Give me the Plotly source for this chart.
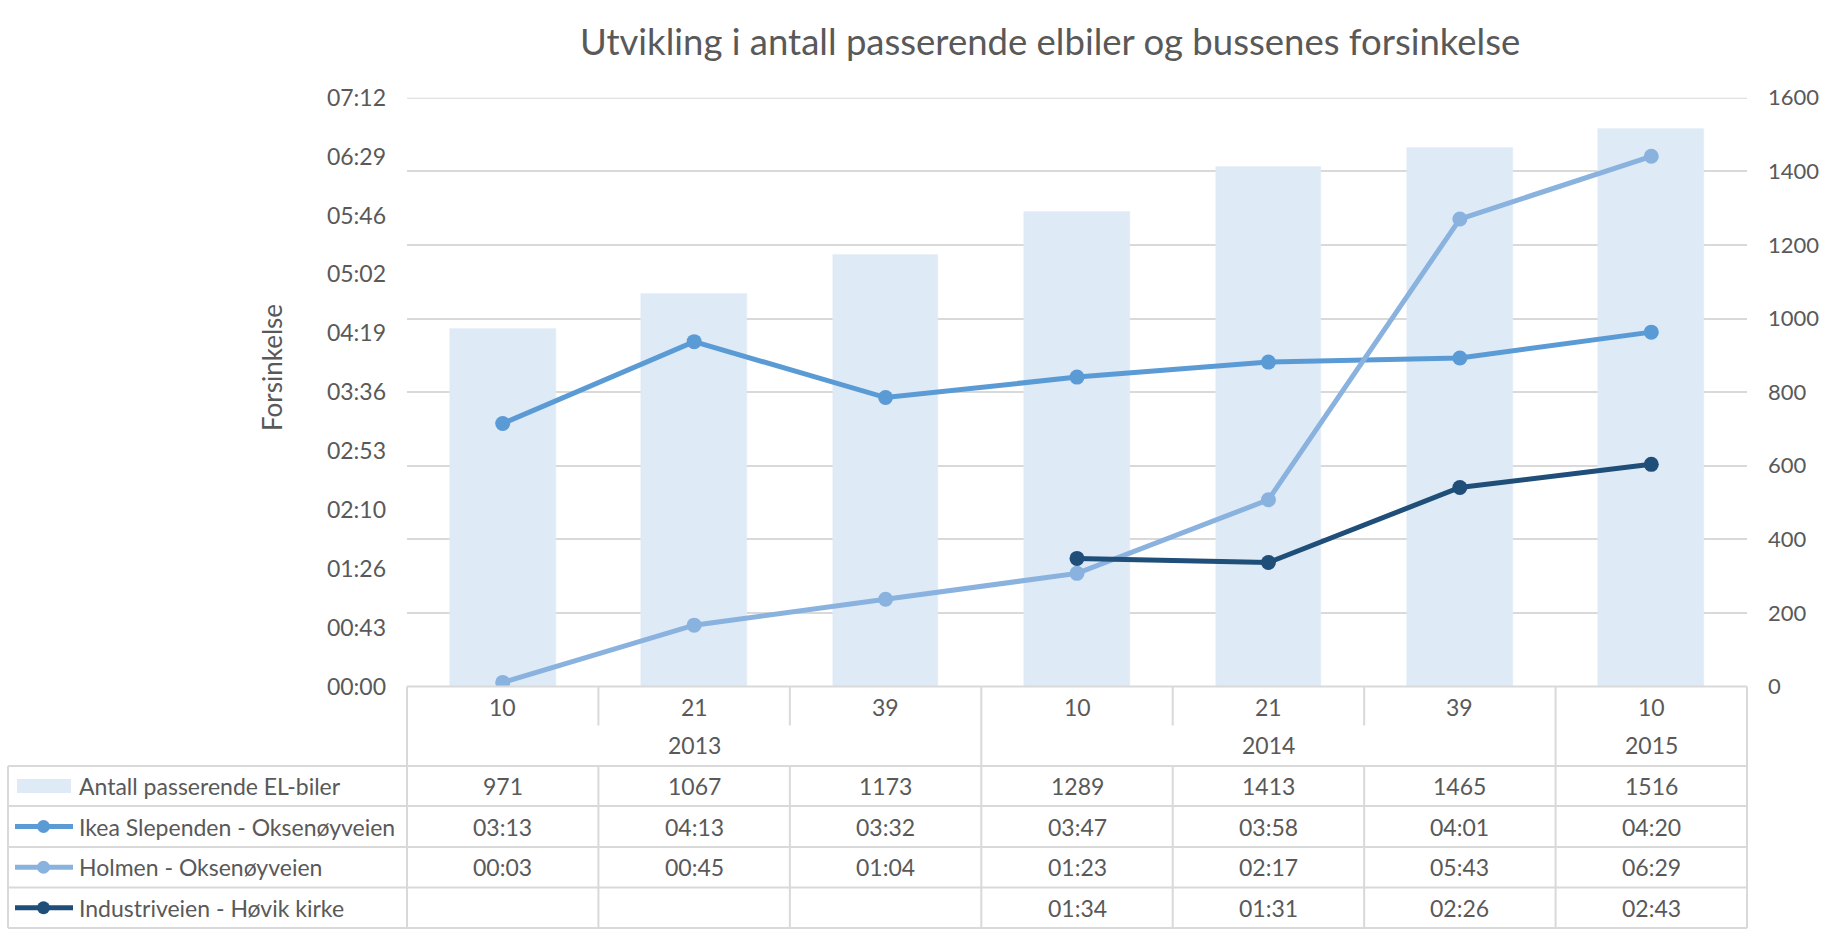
import plotly.graph_objects as go

# ---------------- data ----------------
weeks = ["10", "21", "39", "10", "21", "39", "10"]
years = ["2013", "2014", "2015"]
year_spans = [3, 3, 1]
el_biler = [971, 1067, 1173, 1289, 1413, 1465, 1516]
ikea = ["03:13", "04:13", "03:32", "03:47", "03:58", "04:01", "04:20"]
holmen = ["00:03", "00:45", "01:04", "01:23", "02:17", "05:43", "06:29"]
industri = [None, None, None, "01:34", "01:31", "02:26", "02:43"]
left_ticks = ["00:00", "00:43", "01:26", "02:10", "02:53", "03:36",
              "04:19", "05:02", "05:46", "06:29", "07:12"]

series_names = ["Antall passerende EL-biler", "Ikea Slependen - Oksenøyveien",
                "Holmen - Oksenøyveien", "Industriveien - Høvik kirke"]

# ---------------- style ----------------
W, H = 1825, 942
FONT = "Lato"
TXT = "#595959"
GRID = "#D9D9D9"
BAR_C = "#DEEAF6"
C_IKEA = "#5B9BD5"
C_HOLMEN = "#8AB2DF"
C_IND = "#1F4E79"
FS = 23

PLOT_L, PLOT_R, PLOT_T, PLOT_B = 407, 1747, 97.7, 686.5
TABLE_L = 8
ROWS = [766, 806, 847, 887.5, 928]


def px(x):
    return x / W


def py(y):
    return 1 - y / H


def to_sec(s):
    if s is None:
        return None
    m, sec = s.split(":")
    return int(m) * 60 + int(sec)


n = len(weeks)
xs = list(range(n))

fig = go.Figure()
fig.add_trace(go.Bar(x=xs, y=el_biler, name=series_names[0], marker_color=BAR_C,
                     width=0.552, yaxis="y", showlegend=False))
for vals, col, name in [(ikea, C_IKEA, series_names[1]),
                        (holmen, C_HOLMEN, series_names[2]),
                        (industri, C_IND, series_names[3])]:
    fig.add_trace(go.Scatter(x=xs, y=[to_sec(v) for v in vals], name=name,
                             mode="lines+markers", yaxis="y2",
                             line=dict(color=col, width=5),
                             marker=dict(color=col, size=15),
                             showlegend=False, connectgaps=False))

shapes = []
line_style = dict(color=GRID, width=2)
# top gridline (1600) drawn explicitly in case the axis omits the edge line
shapes.append(dict(type="line", xref="paper", yref="y", x0=px(PLOT_L), x1=px(PLOT_R),
                   y0=1600, y1=1600, line=line_style, layer="below"))
# axis line / top of category area
shapes.append(dict(type="line", xref="paper", yref="paper", x0=px(PLOT_L), x1=px(PLOT_R),
                   y0=py(PLOT_B), y1=py(PLOT_B), line=line_style))
# left border of category area
shapes.append(dict(type="line", xref="paper", yref="paper", x0=px(PLOT_L), x1=px(PLOT_L),
                   y0=py(PLOT_B), y1=py(ROWS[-1]), line=line_style))
# right border
shapes.append(dict(type="line", xref="paper", yref="paper", x0=px(PLOT_R), x1=px(PLOT_R),
                   y0=py(PLOT_B), y1=py(ROWS[-1]), line=line_style))
# table left border
shapes.append(dict(type="line", xref="paper", yref="paper", x0=px(TABLE_L), x1=px(TABLE_L),
                   y0=py(ROWS[0]), y1=py(ROWS[-1]), line=line_style))
# horizontal table lines
for r in ROWS:
    shapes.append(dict(type="line", xref="paper", yref="paper", x0=px(TABLE_L), x1=px(PLOT_R),
                       y0=py(r), y1=py(r), line=line_style))
# vertical separators between columns
group_bounds = set()
acc = 0
for s in year_spans[:-1]:
    acc += s
    group_bounds.add(acc)
for k in range(1, n):
    top = PLOT_B if k in group_bounds else ROWS[0]
    if k not in group_bounds:
        shapes.append(dict(type="line", xref="x", yref="paper", x0=k - 0.5, x1=k - 0.5,
                           y0=py(PLOT_B), y1=py(725.5), line=line_style))
    shapes.append(dict(type="line", xref="x", yref="paper", x0=k - 0.5, x1=k - 0.5,
                       y0=py(top), y1=py(ROWS[-1]), line=line_style))

# legend keys in table
row_c = [(ROWS[i] + ROWS[i + 1]) / 2 for i in range(4)]
shapes.append(dict(type="rect", xref="paper", yref="paper", x0=px(17), x1=px(71),
                   y0=py(row_c[0] - 7), y1=py(row_c[0] + 7), fillcolor=BAR_C,
                   line=dict(width=0)))
for i, col in enumerate([C_IKEA, C_HOLMEN, C_IND]):
    yc = row_c[i + 1]
    shapes.append(dict(type="line", xref="paper", yref="paper", x0=px(15), x1=px(73),
                       y0=py(yc), y1=py(yc), line=dict(color=col, width=5)))
    shapes.append(dict(type="circle", xref="paper", yref="paper", x0=px(37), x1=px(50),
                       y0=py(yc - 6.5), y1=py(yc + 6.5), fillcolor=col,
                       line=dict(width=0)))

annotations = []
tf = dict(family=FONT, size=FS, color=TXT)
for i, w in enumerate(weeks):
    annotations.append(dict(x=i, y=py(706.5), xref="x", yref="paper", text=w,
                            showarrow=False, font=tf, xanchor="center", yanchor="middle"))
start = 0
for yname, s in zip(years, year_spans):
    annotations.append(dict(x=start + (s - 1) / 2, y=py(745), xref="x", yref="paper",
                            text=yname, showarrow=False, font=tf,
                            xanchor="center", yanchor="middle"))
    start += s
for i, nm in enumerate(series_names):
    annotations.append(dict(x=px(77), y=py(row_c[i]), xref="paper", yref="paper", text=nm,
                            showarrow=False, font=tf, xanchor="left", yanchor="middle"))
table_rows = [[str(v) for v in el_biler], ikea, holmen, industri]
for r, vals in enumerate(table_rows):
    for i, v in enumerate(vals):
        if v is None:
            continue
        annotations.append(dict(x=i, y=py(row_c[r]), xref="x", yref="paper", text=v,
                                showarrow=False, font=tf, xanchor="center",
                                yanchor="middle"))
annotations.append(dict(x=px(272), y=py(368), xref="paper", yref="paper", text="Forsinkelse",
                        textangle=-90, showarrow=False,
                        font=dict(family=FONT, size=26, color=TXT),
                        xanchor="center", yanchor="middle"))
annotations.append(dict(x=px(1050), y=py(41), xref="paper", yref="paper",
                        text="Utvikling i antall passerende elbiler og bussenes forsinkelse",
                        showarrow=False, font=dict(family=FONT, size=36.5, color=TXT),
                        xanchor="center", yanchor="middle"))

fig.update_layout(
    width=W, height=H,
    margin=dict(l=0, r=0, t=0, b=0, pad=0, autoexpand=False),
    paper_bgcolor="white", plot_bgcolor="white",
    font=dict(family=FONT, size=FS, color=TXT),
    showlegend=False,
    bargap=0,
    xaxis=dict(domain=[px(PLOT_L), px(PLOT_R)], range=[-0.5, n - 0.5],
               showticklabels=False, showgrid=False, zeroline=False, showline=False,
               automargin=False, fixedrange=True),
    yaxis=dict(domain=[py(PLOT_B), py(PLOT_T)], range=[0, 1600], dtick=200,
               side="right", showgrid=True, gridcolor=GRID, gridwidth=2,
               zeroline=False, showline=False, ticks="", ticklabelstandoff=20,
               tickfont=dict(family=FONT, size=22, color=TXT), automargin=False),
    yaxis2=dict(overlaying="y", side="left", range=[0, 432],
                tickvals=[i * 43.2 for i in range(len(left_ticks))], ticktext=left_ticks,
                showgrid=False, zeroline=False, showline=False, ticks="",
                ticklabelstandoff=20, tickfont=tf, automargin=False),
    shapes=shapes,
    annotations=annotations,
)

fig.write_html("out.html", config={"displayModeBar": False},
               post_script="document.body.style.margin='0';")
